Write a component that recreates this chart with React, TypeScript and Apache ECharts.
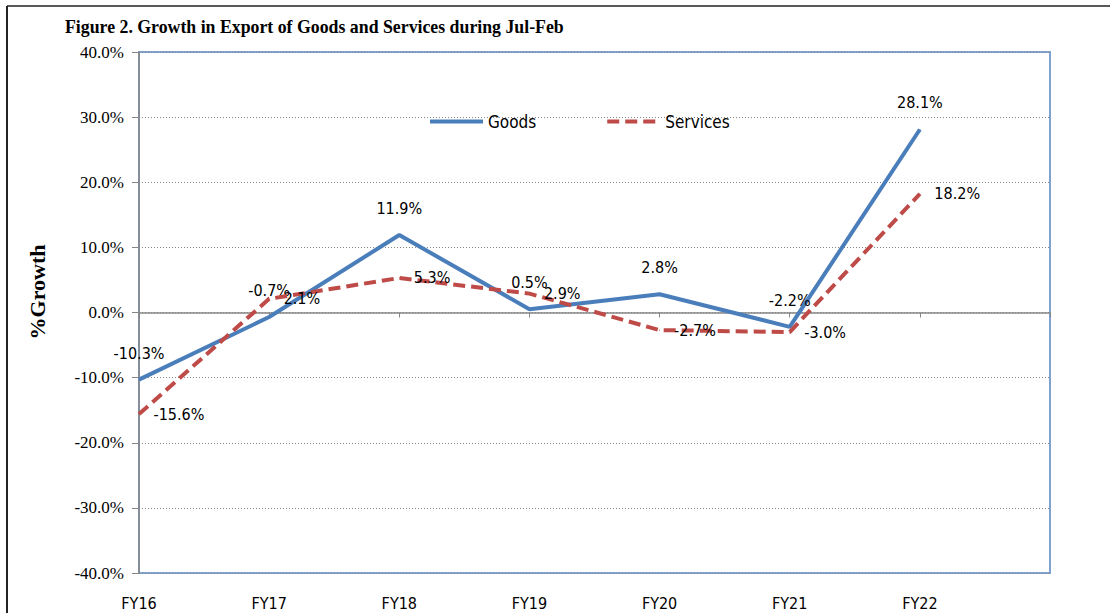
import React, { useEffect, useRef } from "react";
import * as echarts from "echarts";

const categories = ["FY16", "FY17", "FY18", "FY19", "FY20", "FY21", "FY22", ""];
const goods = [-10.3, -0.7, 11.9, 0.5, 2.8, -2.2, 28.1];
const services = [-15.6, 2.1, 5.3, 2.9, -2.7, -3.0, 18.2];
const yTicks = { min: -40, max: 40, interval: 10 };

const TITLE = "Figure 2. Growth in Export of Goods and Services during Jul-Feb";
const SANS = "'Liberation Sans Narrow', 'DejaVu Sans Condensed', 'Open Sans', sans-serif";
const SERIF = "'Liberation Serif', 'Times New Roman', serif";
const BLUE = "#4A7EBB";
const RED = "#BE4B48";

export default function App() {
  const ref = useRef<HTMLDivElement>(null);
  useEffect(() => {
    if (!ref.current) return;
    const chart = echarts.init(ref.current, undefined, { renderer: "svg" });
    chart.setOption({
      animation: false,
      backgroundColor: "#fff",
      grid: {
        left: 139,
        right: 60,
        top: 52,
        bottom: 40,
        show: true,
        borderColor: "#7FA2D0",
        borderWidth: 2,
        backgroundColor: "transparent",
      },
      legend: {
        left: 423,
        top: 108,
        itemWidth: 53,
        itemHeight: 8,
        itemGap: 69,
        itemStyle: { opacity: 0 },
        lineStyle: { width: 4 },
        textStyle: { fontFamily: SANS, fontSize: 17, color: "#000", padding: [0, 0, 0, 0] },
        data: ["Goods", "Services"],
      },
      graphic: [
        { type: "line", shape: { x1: 7, y1: 6, x2: 1110, y2: 6 }, style: { stroke: "#595959", lineWidth: 2 } },
        { type: "line", shape: { x1: 7, y1: 6, x2: 7, y2: 613 }, style: { stroke: "#222", lineWidth: 2 } },
        {
          type: "text",
          x: 65,
          y: 27,
          style: {
            text: TITLE,
            font: `bold 17.8px ${SERIF}`,
            fill: "#000",
            textAlign: "left",
            textVerticalAlign: "middle",
          },
        },
        {
          type: "text",
          x: 37,
          y: 292,
          rotation: Math.PI / 2,
          style: {
            text: "%Growth",
            font: `bold 22px ${SERIF}`,
            fill: "#000",
            textAlign: "center",
            textVerticalAlign: "middle",
          },
        },
      ],
      xAxis: [
        {
          type: "category",
          data: categories,
          boundaryGap: false,
          position: "bottom",
          axisLine: { show: false, onZero: false },
          axisTick: { show: false },
          axisLabel: { fontFamily: SANS, fontSize: 16, color: "#000", margin: 22, interval: 0 },
          splitLine: { show: false },
        },
        {
          type: "category",
          data: categories,
          boundaryGap: false,
          position: "bottom",
          axisLine: { show: true, onZero: true, lineStyle: { color: "#868686", width: 1.5 } },
          axisTick: { show: true, length: 5, inside: false, interval: 0, lineStyle: { color: "#868686" } },
          axisLabel: { show: false },
          splitLine: { show: false },
        },
      ],
      yAxis: {
        type: "value",
        min: yTicks.min,
        max: yTicks.max,
        interval: yTicks.interval,
        axisLine: { show: true, lineStyle: { color: "#868686", width: 1.5 } },
        axisTick: { show: true, length: 7, lineStyle: { color: "#868686" } },
        axisLabel: {
          fontFamily: SERIF,
          fontSize: 17,
          color: "#000",
          margin: 15,
          formatter: (v: number) => v.toFixed(1) + "%",
        },
        splitLine: { show: true, lineStyle: { color: "#868686", type: [1, 2], width: 1 } },
      },
      series: [
        {
          name: "Goods",
          type: "line",
          data: goods,
          symbol: "circle",
          symbolSize: 1,
          lineStyle: { color: BLUE, width: 4 },
          itemStyle: { color: BLUE },
          label: {
            show: true,
            position: "top",
            distance: 18,
            fontFamily: SANS,
            fontSize: 16,
            color: "#000",
            formatter: (p: any) => p.value.toFixed(1) + "%",
          },
          z: 3,
        },
        {
          name: "Services",
          type: "line",
          data: services,
          symbol: "circle",
          symbolSize: 1,
          lineStyle: { color: RED, width: 4, type: [12, 6] },
          itemStyle: { color: RED },
          label: {
            show: true,
            position: "right",
            distance: 14,
            fontFamily: SANS,
            fontSize: 16,
            color: "#000",
            formatter: (p: any) => p.value.toFixed(1) + "%",
          },
          z: 4,
        },
      ],
    });
    return () => chart.dispose();
  }, []);
  return <div ref={ref} style={{ width: 1110, height: 613, position: "absolute", left: 0, top: 0 }} />;
}
